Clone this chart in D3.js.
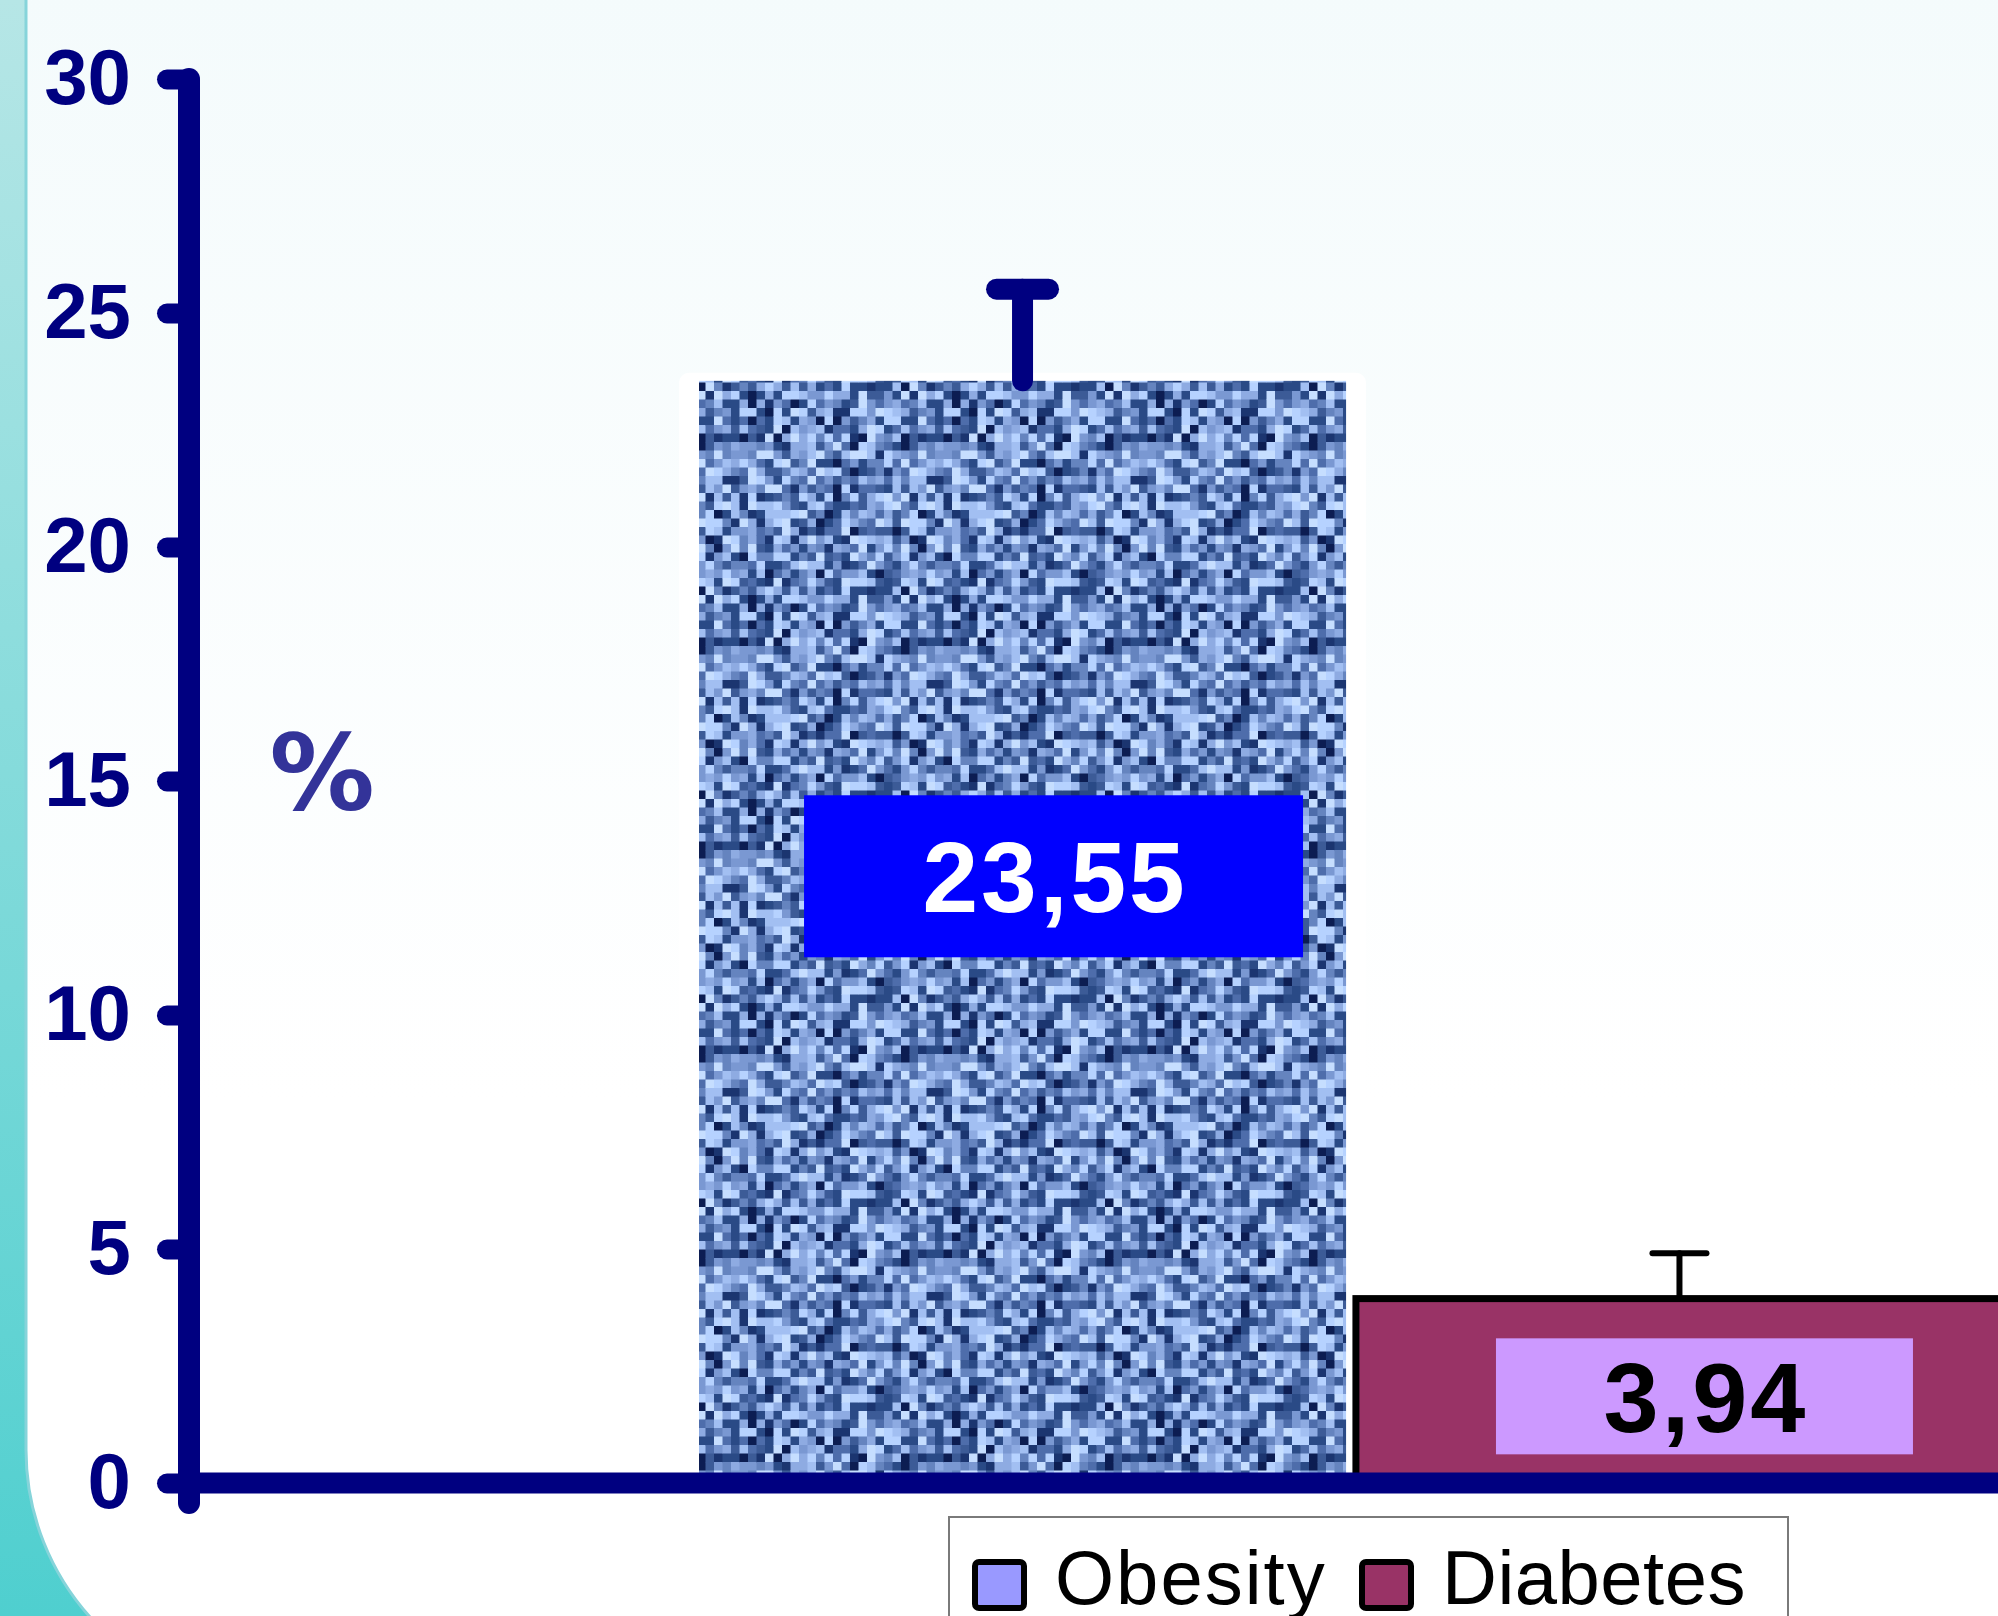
<!DOCTYPE html>
<html>
<head>
<meta charset="utf-8">
<script src="https://cdn.jsdelivr.net/npm/d3@7"></script>
<style>
  html, body { margin: 0; padding: 0; background: #ffffff; }
  svg { display: block; }
</style>
</head>
<body>
<svg id="chart" width="1998" height="1616"></svg>
<script>
// ---- data ----
const series = ["Obesity", "Diabetes"];
const values = [23.55, 3.94];
const errors = [1.96, 0.97];
const valueLabels = ["23,55", "3,94"];
const yTicks = [0, 5, 10, 15, 20, 25, 30];
const yLabel = "%";

// ---- styling ----
const navy = "#000080";
const barFills = ["url(#denim)", "#993366"];
const legendFills = ["#9999ff", "#993366"];
const labelBoxFills = ["#0000ff", "#cc99ff"];
const labelTextFills = ["#ffffff", "#000000"];

const W = 1998, H = 1616;
const svg = d3.select("#chart");
const defs = svg.append("defs");

// backdrop gradients
const teal = defs.append("linearGradient").attr("id", "teal")
  .attr("x1", 0).attr("y1", 0).attr("x2", 0).attr("y2", 1);
teal.append("stop").attr("offset", "0%").attr("stop-color", "#b6e6e6");
teal.append("stop").attr("offset", "100%").attr("stop-color", "#4fcfcf");

const panel = defs.append("linearGradient").attr("id", "panel")
  .attr("x1", 0).attr("y1", 0).attr("x2", 0).attr("y2", 1);
panel.append("stop").attr("offset", "0%").attr("stop-color", "#f4fbfc");
panel.append("stop").attr("offset", "65%").attr("stop-color", "#ffffff");
panel.append("stop").attr("offset", "100%").attr("stop-color", "#ffffff");

// mottled blue texture for the first bar
const cell = 8.5, n = 24;
const shades = ["#0c1d52", "#1b3570", "#2a4a86", "#3c5b97", "#4e6dab", "#6584bf",
                "#7a98d2", "#8eabe2", "#a2bff2", "#b6d2ff", "#c6deff"];
const pat = defs.append("pattern").attr("id", "denim")
  .attr("patternUnits", "userSpaceOnUse")
  .attr("width", cell * n).attr("height", cell * n);
function hash(i, j) {
  let h = (i * 374761393 + j * 668265263) >>> 0;
  h = Math.imul(h ^ (h >>> 13), 1274126177) >>> 0;
  h = (h ^ (h >>> 16)) >>> 0;
  return h / 4294967296;
}
const cells = [];
for (let i = 0; i < n; i++) for (let j = 0; j < n; j++) cells.push([i, j]);
pat.selectAll("rect").data(cells).join("rect")
  .attr("x", d => d[0] * cell).attr("y", d => d[1] * cell)
  .attr("width", cell + 0.5).attr("height", cell + 0.5)
  .attr("fill", d => {
    const r = hash(d[0] + 7, d[1] + 3);
    const t = Math.pow(r, 0.85);
    return shades[Math.min(shades.length - 1, Math.floor(t * shades.length))];
  });

// backdrop
svg.append("rect").attr("width", W).attr("height", H).attr("fill", "url(#teal)");
svg.append("path")
  .attr("d", "M26,-10 L26,1450 A250,250 0 0 0 276,1700 L2100,1700 L2100,-10 Z")
  .attr("fill", "url(#panel)")
  .attr("stroke", "#86d4da").attr("stroke-width", 3);

// ---- scales ----
const y = d3.scaleLinear().domain([0, 30]).range([1483, 79]);
const x = d3.scaleBand().domain(series).range([699, 2003])
  .paddingInner(0.015).paddingOuter(0);
const axisX = 189;

// white halo behind the textured bar
svg.append("rect")
  .attr("x", x(series[0]) - 20).attr("y", y(values[0]) - 8)
  .attr("width", x.bandwidth() + 40).attr("height", y(0) - y(values[0]) + 8)
  .attr("rx", 10).attr("fill", "#ffffff");

// bars
svg.selectAll(".bar").data(series).join("rect")
  .attr("class", "bar")
  .attr("x", d => x(d))
  .attr("y", (d, i) => y(values[i]))
  .attr("width", x.bandwidth())
  .attr("height", (d, i) => y(0) - y(values[i]))
  .attr("fill", (d, i) => barFills[i])
  .attr("stroke", (d, i) => i === 1 ? "#000000" : "none")
  .attr("stroke-width", 7);

// error bars
const errStyle = [{ c: navy, w: 21, cap: 52 }, { c: "#000000", w: 6, cap: 54 }];
series.forEach((s, i) => {
  const cx = x(s) + x.bandwidth() / 2;
  const st = errStyle[i];
  const g = svg.append("g").attr("stroke", st.c).attr("stroke-width", st.w)
    .attr("stroke-linecap", "round");
  g.append("line").attr("x1", cx).attr("x2", cx)
    .attr("y1", y(values[i])).attr("y2", y(values[i] + errors[i]));
  g.append("line").attr("x1", cx - st.cap / 2).attr("x2", cx + st.cap / 2)
    .attr("y1", y(values[i] + errors[i])).attr("y2", y(values[i] + errors[i]));
});

// value label boxes
const boxes = [
  { dx: 31, w: 499, h: 162, cyv: values[0] * 0.5505, fs: 100, ls: 3 },
  { dx: 25, w: 417, h: 116, cyv: values[1] * 0.47, fs: 99, ls: 3 }
];
series.forEach((s, i) => {
  const b = boxes[i];
  const cx = x(s) + x.bandwidth() / 2 + b.dx;
  const cy = y(b.cyv);
  svg.append("rect").attr("x", cx - b.w / 2).attr("y", cy - b.h / 2)
    .attr("width", b.w).attr("height", b.h).attr("fill", labelBoxFills[i]);
  svg.append("text").attr("x", cx + b.ls / 2).attr("y", cy + b.fs * 0.36)
    .attr("text-anchor", "middle")
    .attr("font-family", "'Liberation Sans', Arial, sans-serif")
    .attr("font-weight", "bold").attr("font-size", b.fs)
    .attr("letter-spacing", b.ls)
    .attr("fill", labelTextFills[i]).text(valueLabels[i]);
});

// x axis baseline
svg.append("line").attr("x1", axisX).attr("x2", W + 20)
  .attr("y1", y(0)).attr("y2", y(0))
  .attr("stroke", navy).attr("stroke-width", 21);

// y axis
const yAxis = svg.append("g").attr("transform", `translate(${axisX},0)`)
  .call(d3.axisLeft(y).tickValues(yTicks).tickSize(22).tickPadding(36));
yAxis.select(".domain").remove();
yAxis.selectAll(".tick line")
  .attr("stroke", navy).attr("stroke-width", 20).attr("stroke-linecap", "round");
yAxis.selectAll(".tick text")
  .attr("fill", navy)
  .attr("font-family", "'Liberation Sans', Arial, sans-serif")
  .attr("font-weight", "bold").attr("font-size", 78);
svg.append("line").attr("x1", axisX).attr("x2", axisX)
  .attr("y1", y(30)).attr("y2", y(0) + 20)
  .attr("stroke", navy).attr("stroke-width", 22).attr("stroke-linecap", "round");

// axis unit
svg.append("text").attr("x", 322).attr("y", 810)
  .attr("text-anchor", "middle")
  .attr("font-family", "'DejaVu Sans', Verdana, sans-serif")
  .attr("font-weight", "bold").attr("font-size", 105)
  .attr("fill", "#333399").text(yLabel);

// legend
const legend = svg.append("g");
legend.append("rect").attr("x", 949).attr("y", 1517)
  .attr("width", 839).attr("height", 200)
  .attr("fill", "#ffffff").attr("stroke", "#7a7a7a").attr("stroke-width", 2);
const legendX = [975, 1362];
series.forEach((s, i) => {
  legend.append("rect").attr("x", legendX[i]).attr("y", 1562)
    .attr("width", 49).attr("height", 46).attr("rx", 4)
    .attr("fill", legendFills[i]).attr("stroke", "#000000").attr("stroke-width", 6);
  legend.append("text").attr("x", legendX[i] + 80).attr("y", 1604)
    .attr("font-family", "'Liberation Sans', Arial, sans-serif")
    .attr("font-size", 76).attr("letter-spacing", i === 0 ? 2 : 0.5)
    .attr("fill", "#000000").text(s);
});
</script>
</body>
</html>
